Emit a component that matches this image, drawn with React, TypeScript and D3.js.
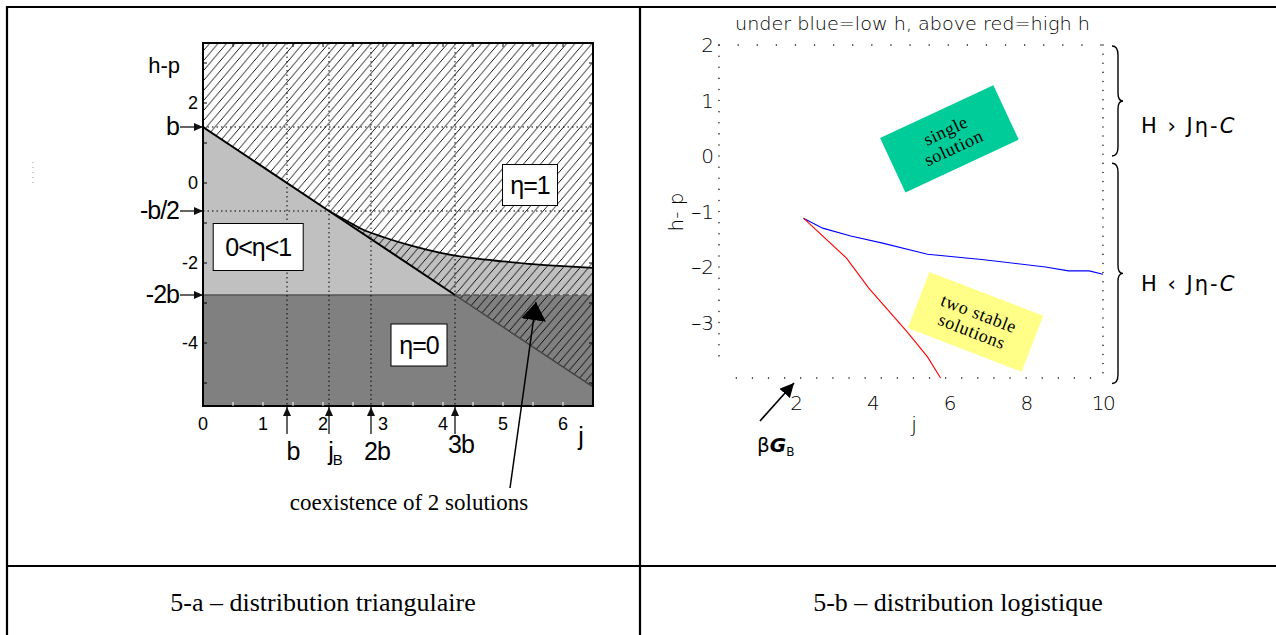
import { useEffect, useRef } from 'react';
import * as d3 from 'd3';

const W = 1276;
const H = 635;

// ---- left panel: triangular distribution ----
const leftXTicks = [0, 1, 2, 3, 4, 5, 6];
const leftYTicks = [2, 0, -2, -4];
const leftYMarks = [
  { h: 1.4, label: 'b' },
  { h: -0.7, label: '-b/2' },
  { h: -2.8, label: '-2b' },
];
const leftXMarks = [
  { j: 1.4, label: 'b', sub: '' },
  { j: 2.1, label: 'j', sub: 'B' },
  { j: 2.8, label: '2b', sub: '' },
  { j: 4.2, label: '3b', sub: '' },
];
const minusTwoB = -2.8;
// h-p = b - j  (lower boundary of eta=1)
const lowerLine: [number, number][] = [[0, 1.4], [2.1, -0.7], [4.2, -2.8], [6.5, -5.1]];
// upper boundary for j > jB
const upperCurve: [number, number][] = [
  [2.1, -0.7], [2.4, -0.95], [2.67, -1.17], [3.0, -1.35], [3.5, -1.58], [4.0, -1.76],
  [4.5, -1.88], [5.0, -1.96], [5.5, -2.03], [6.0, -2.08], [6.5, -2.12],
];
const leftBoxes = [
  { j: 5.45, h: -0.05, w: 55, hh: 41, text: 'η=1' },
  { j: 0.92, h: -1.6, w: 90, hh: 47, text: '0<η<1' },
  { j: 3.6, h: -4.05, w: 56, hh: 42, text: 'η=0' },
];

// ---- right panel: logistic distribution ----
const rightXTicks = [2, 4, 6, 8, 10];
const rightYTicks = [2, 1, 0, -1, -2, -3];
const blueLow: [number, number][] = [
  [2.2, -1.12], [2.7, -1.3], [3.43, -1.44], [4.26, -1.57], [5.43, -1.77],
  [6.9, -1.87], [8.5, -2.0], [9.1, -2.07], [9.64, -2.07], [10, -2.13],
];
const redHigh: [number, number][] = [
  [2.2, -1.12], [3.32, -1.84], [3.9, -2.38], [4.9, -3.17], [5.43, -3.62], [5.77, -4.0],
];
const rightBoxes = [
  { j: 6.0, h: 0.31, w: 125, hh: 60, rot: -25, fill: '#00cc99', lines: ['single', 'solution'] },
  { j: 6.68, h: -2.99, w: 122, hh: 60, rot: 21, fill: '#ffff88', lines: ['two stable', 'solutions'] },
];

const SANS = "'Liberation Sans', Arial, sans-serif";
const SERIF = "'Liberation Serif', 'Times New Roman', serif";
const THIN = "'DejaVu Sans', sans-serif";

export default function App() {
  const svgRef = useRef<SVGSVGElement>(null);

  useEffect(() => {
    if (!svgRef.current) return;
    const svg = d3.select(svgRef.current);
    svg.selectAll('*').remove();

    const defs = svg.append('defs');
    const hatch = defs.append('pattern')
      .attr('id', 'hatch')
      .attr('patternUnits', 'userSpaceOnUse')
      .attr('width', 8.5).attr('height', 10);
    hatch.append('path')
      .attr('d', 'M-8.5,10 L0,0 M0,10 L8.5,0 M8.5,10 L17,0')
      .attr('stroke', '#000').attr('stroke-width', 0.9).attr('fill', 'none');

    const mkArrow = (id: string, w: number, h: number, color: string) => {
      defs.append('marker')
        .attr('id', id)
        .attr('viewBox', '0 0 10 10')
        .attr('refX', 10).attr('refY', 5)
        .attr('markerUnits', 'userSpaceOnUse')
        .attr('markerWidth', w).attr('markerHeight', h)
        .attr('preserveAspectRatio', 'none')
        .attr('orient', 'auto')
        .append('path').attr('d', 'M0,0 L10,5 L0,10 Z').attr('fill', color);
    };
    mkArrow('arr', 9, 8, '#111');
    mkArrow('arrBig', 18, 25, '#000');
    mkArrow('arrMid', 14, 14, '#000');

    // table frame
    const frame = svg.append('g').attr('stroke', '#000').attr('stroke-width', 2.2);
    frame.append('line').attr('x1', 6).attr('y1', 7).attr('x2', W).attr('y2', 7);
    frame.append('line').attr('x1', 7).attr('y1', 6).attr('x2', 7).attr('y2', H);
    frame.append('line').attr('x1', 640).attr('y1', 6).attr('x2', 640).attr('y2', H);
    frame.append('line').attr('x1', 6).attr('y1', 566).attr('x2', W).attr('y2', 566);

    svg.append('line')
      .attr('x1', 33).attr('y1', 162).attr('x2', 33).attr('y2', 185)
      .attr('stroke', '#999').attr('stroke-width', 1).attr('stroke-dasharray', '1,4');

    svg.append('text').attr('x', 323).attr('y', 611)
      .attr('text-anchor', 'middle').attr('font-family', SERIF).attr('font-size', 26)
      .text('5-a – distribution triangulaire');
    svg.append('text').attr('x', 958).attr('y', 611)
      .attr('text-anchor', 'middle').attr('font-family', SERIF).attr('font-size', 26)
      .text('5-b – distribution logistique');

    // ================= left panel =================
    const xL = d3.scaleLinear().domain([0, 6.5]).range([203, 593]);
    const yL = d3.scaleLinear().domain([-5.575, 3.5]).range([406, 43]);
    const [x0, x1] = xL.range();
    const [yb, yt] = yL.range();

    defs.append('clipPath').attr('id', 'clipL')
      .append('rect').attr('x', x0).attr('y', yt).attr('width', x1 - x0).attr('height', yb - yt);
    const gL = svg.append('g').attr('clip-path', 'url(#clipL)');

    gL.append('rect').attr('x', x0).attr('y', yt).attr('width', x1 - x0).attr('height', yb - yt)
      .attr('fill', '#c0c0c0');
    gL.append('rect').attr('x', x0).attr('y', yL(minusTwoB)).attr('width', x1 - x0)
      .attr('height', yb - yL(minusTwoB)).attr('fill', '#808080');

    const upperBoundary: [number, number][] = [lowerLine[0], ...upperCurve];
    const area = d3.area<[number, number]>()
      .x(d => xL(d[0])).y0(yt).y1(d => yL(d[1]));
    gL.append('path').datum(upperBoundary).attr('d', area).attr('fill', '#fff');
    gL.append('path').datum(lowerLine).attr('d', area).attr('fill', 'url(#hatch)');

    // -2b boundary
    gL.append('line')
      .attr('x1', x0).attr('x2', xL(4.2)).attr('y1', yL(minusTwoB)).attr('y2', yL(minusTwoB))
      .attr('stroke', '#555').attr('stroke-width', 1.5);
    gL.append('line')
      .attr('x1', xL(4.2)).attr('x2', x1).attr('y1', yL(minusTwoB)).attr('y2', yL(minusTwoB))
      .attr('stroke', '#555').attr('stroke-width', 1.5).attr('stroke-dasharray', '6,3');

    // dotted guides
    const dots = gL.append('g').attr('stroke', '#000').attr('stroke-width', 1).attr('stroke-dasharray', '1.5,3');
    leftYMarks.slice(0, 2).forEach(m => {
      dots.append('line').attr('x1', x0).attr('x2', x1).attr('y1', yL(m.h)).attr('y2', yL(m.h));
    });
    leftXMarks.forEach(m => {
      dots.append('line').attr('x1', xL(m.j)).attr('x2', xL(m.j)).attr('y1', yt).attr('y2', yb);
    });

    const line = d3.line<[number, number]>().x(d => xL(d[0])).y(d => yL(d[1]));
    gL.append('path').datum(lowerLine.slice(0, 3)).attr('d', line)
      .attr('fill', 'none').attr('stroke', '#000').attr('stroke-width', 2);
    gL.append('path').datum(lowerLine.slice(2)).attr('d', line)
      .attr('fill', 'none').attr('stroke', '#444').attr('stroke-width', 1.5);
    gL.append('path').datum(upperCurve).attr('d', d3.line<[number, number]>().x(d => xL(d[0])).y(d => yL(d[1])).curve(d3.curveMonotoneX))
      .attr('fill', 'none').attr('stroke', '#000').attr('stroke-width', 1.8);

    // frame + ticks
    svg.append('rect').attr('x', x0).attr('y', yt).attr('width', x1 - x0).attr('height', yb - yt)
      .attr('fill', 'none').attr('stroke', '#000').attr('stroke-width', 2);
    const ticks = svg.append('g').attr('stroke', '#000').attr('stroke-width', 1);
    d3.range(0.5, 6.5, 0.5).forEach(v => {
      ticks.append('line').attr('x1', xL(v)).attr('x2', xL(v)).attr('y1', yt).attr('y2', yt + 4);
      ticks.append('line').attr('x1', xL(v)).attr('x2', xL(v)).attr('y1', yb).attr('y2', yb - 4)
        .attr('stroke', '#fff');
    });
    d3.range(-5, 4, 1).forEach(v => {
      ticks.append('line').attr('x1', x0).attr('x2', x0 + 4).attr('y1', yL(v)).attr('y2', yL(v));
      ticks.append('line').attr('x1', x1).attr('x2', x1 - 4).attr('y1', yL(v)).attr('y2', yL(v));
    });

    svg.append('g').selectAll('text').data(leftXTicks).enter().append('text')
      .attr('x', d => xL(d)).attr('y', 430).attr('text-anchor', 'middle')
      .attr('font-family', SANS).attr('font-size', 18).text(d => d);
    svg.append('g').selectAll('text').data(leftYTicks).enter().append('text')
      .attr('x', x0 - 5).attr('y', d => yL(d) + 6).attr('text-anchor', 'end')
      .attr('font-family', SANS).attr('font-size', 18).text(d => d);

    svg.append('text').attr('x', 180).attr('y', 73).attr('text-anchor', 'end')
      .attr('font-family', SANS).attr('font-size', 22).text('h-p');

    leftYMarks.forEach(m => {
      svg.append('line').attr('x1', x0 - 23).attr('x2', x0).attr('y1', yL(m.h)).attr('y2', yL(m.h))
        .attr('stroke', '#111').attr('stroke-width', 1.3).attr('marker-end', 'url(#arr)');
      svg.append('text').attr('x', x0 - 24).attr('y', yL(m.h) + 8).attr('text-anchor', 'end')
        .attr('font-family', SANS).attr('font-size', 25).attr('letter-spacing', -1).text(m.label);
    });

    leftXMarks.forEach(m => {
      svg.append('line').attr('x1', xL(m.j)).attr('x2', xL(m.j)).attr('y1', 434).attr('y2', yb + 1)
        .attr('stroke', '#111').attr('stroke-width', 1.3).attr('marker-end', 'url(#arr)');
      const t = svg.append('text').attr('x', xL(m.j) + 6).attr('y', m.label === '3b' ? 453 : 460)
        .attr('text-anchor', 'middle').attr('font-family', SANS).attr('font-size', 25)
        .attr('letter-spacing', -1).text(m.label);
      if (m.sub) t.append('tspan').attr('font-size', 15).attr('dy', 5).text(m.sub);
    });
    svg.append('text').attr('x', 581).attr('y', 445).attr('text-anchor', 'middle')
      .attr('font-family', SANS).attr('font-size', 25).text('j');

    leftBoxes.forEach(b => {
      const cx = xL(b.j), cy = yL(b.h);
      svg.append('rect').attr('x', cx - b.w / 2).attr('y', cy - b.hh / 2).attr('width', b.w).attr('height', b.hh)
        .attr('fill', '#fff').attr('stroke', '#000').attr('stroke-width', 1);
      svg.append('text').attr('x', cx).attr('y', cy + 9).attr('text-anchor', 'middle')
        .attr('font-family', SANS).attr('font-size', 25).attr('letter-spacing', -1).text(b.text);
    });

    // coexistence annotation
    svg.append('line').attr('x1', 510).attr('y1', 488).attr('x2', xL(5.55)).attr('y2', yL(-2.98))
      .attr('stroke', '#000').attr('stroke-width', 1.5).attr('marker-end', 'url(#arrBig)');
    svg.append('text').attr('x', 409).attr('y', 510).attr('text-anchor', 'middle')
      .attr('font-family', SERIF).attr('font-size', 23).text('coexistence of 2 solutions');

    // ================= right panel =================
    const xR = d3.scaleLinear().domain([0, 10]).range([719, 1103]);
    const yR = d3.scaleLinear().domain([-4, 2]).range([378, 45]);
    const fr = svg.append('g').attr('stroke', '#000').attr('stroke-width', 1.4)
      .attr('stroke-linecap', 'round').attr('fill', 'none');
    fr.append('line').attr('x1', xR(0)).attr('x2', xR(10)).attr('y1', yR(2)).attr('y2', yR(2))
      .attr('stroke-dasharray', '0.1,19');
    fr.append('line').attr('x1', xR(0.45)).attr('x2', xR(10)).attr('y1', yR(-4)).attr('y2', yR(-4))
      .attr('stroke-dasharray', '0.1,16');
    fr.append('line').attr('x1', xR(0)).attr('x2', xR(0)).attr('y1', yR(2)).attr('y2', yR(-3.8))
      .attr('stroke-dasharray', '0.1,11');
    fr.append('line').attr('x1', xR(10)).attr('x2', xR(10)).attr('y1', yR(2)).attr('y2', yR(-4))
      .attr('stroke-dasharray', '0.1,9');

    svg.append('g').selectAll('text').data(rightXTicks).enter().append('text')
      .attr('x', d => xR(d)).attr('y', 410).attr('text-anchor', 'middle')
      .attr('font-family', THIN).attr('font-weight', 300).attr('font-size', 20).attr('fill', '#000')
      .attr('letter-spacing', -1.5).text(d => d);
    svg.append('g').selectAll('text').data(rightYTicks).enter().append('text')
      .attr('x', 714).attr('y', d => yR(d) + 7).attr('text-anchor', 'end')
      .attr('font-family', THIN).attr('font-weight', 300).attr('font-size', 20).attr('fill', '#000')
      .text(d => (d < 0 ? `–${-d}` : `${d}`));

    svg.append('text').attr('x', 914).attr('y', 432).attr('text-anchor', 'middle')
      .attr('font-family', THIN).attr('font-weight', 300).attr('font-size', 22).text('j');
    svg.append('text').attr('transform', 'translate(683,212) rotate(-90)').attr('text-anchor', 'middle')
      .attr('font-family', THIN).attr('font-weight', 300).attr('font-size', 20).text('h- p');
    svg.append('text').attr('x', 735).attr('y', 30)
      .attr('font-family', THIN).attr('font-weight', 300).attr('font-size', 18)
      .attr('textLength', 355).attr('lengthAdjust', 'spacingAndGlyphs')
      .text('under blue=low h, above red=high h');

    const lineR = d3.line<[number, number]>().x(d => xR(d[0])).y(d => yR(d[1]));
    svg.append('path').datum(blueLow).attr('d', lineR).attr('fill', 'none')
      .attr('stroke', '#0000ff').attr('stroke-width', 1.1);
    svg.append('path').datum(redHigh).attr('d', lineR).attr('fill', 'none')
      .attr('stroke', '#ff0000').attr('stroke-width', 1.1);

    rightBoxes.forEach(b => {
      const g = svg.append('g').attr('transform', `translate(${xR(b.j)},${yR(b.h)}) rotate(${b.rot})`);
      g.append('rect').attr('x', -b.w / 2).attr('y', -b.hh / 2).attr('width', b.w).attr('height', b.hh)
        .attr('fill', b.fill);
      b.lines.forEach((l, i) => {
        g.append('text').attr('x', 0).attr('y', -3 + i * 19).attr('text-anchor', 'middle')
          .attr('font-family', SERIF).attr('font-size', 18).attr('letter-spacing', 0.6).text(l);
      });
    });

    // braces
    const brace = (top: number, bot: number, x: number) => {
      const mid = (top + bot) / 2;
      return `M${x},${top} Q${x + 6},${top} ${x + 6},${top + 9} L${x + 6},${mid - 8} Q${x + 6},${mid} ${x + 11},${mid}` +
        ` Q${x + 6},${mid} ${x + 6},${mid + 8} L${x + 6},${bot - 9} Q${x + 6},${bot} ${x},${bot}`;
    };
    svg.append('path').attr('d', brace(yR(2) + 1, yR(0), 1112)).attr('fill', 'none')
      .attr('stroke', '#000').attr('stroke-width', 1.4);
    svg.append('path').attr('d', brace(yR(-0.13), yR(-4.1), 1112)).attr('fill', 'none')
      .attr('stroke', '#000').attr('stroke-width', 1.4);

    const cond = (y: number, sym: string) => {
      const t = svg.append('text').attr('x', 1141).attr('y', y)
        .attr('font-family', THIN).attr('font-size', 21).attr('letter-spacing', 2);
      t.append('tspan').text(`H ${sym} Jη-`);
      t.append('tspan').attr('font-style', 'italic').text('C');
    };
    cond(133, '›');
    cond(291, '‹');

    svg.append('line').attr('x1', 760).attr('y1', 421).attr('x2', 794).attr('y2', 383)
      .attr('stroke', '#000').attr('stroke-width', 1.6).attr('marker-end', 'url(#arrMid)');
    const bg = svg.append('text').attr('x', 757).attr('y', 452)
      .attr('font-family', THIN).attr('font-size', 20);
    bg.append('tspan').text('β');
    bg.append('tspan').attr('font-style', 'italic').attr('font-weight', 'bold').text('G');
    bg.append('tspan').attr('font-size', 12).attr('dy', 4).text('B');
  }, []);

  return (
    <svg
      ref={svgRef}
      width={W}
      height={H}
      style={{ position: 'absolute', left: 0, top: 0, background: '#fff' }}
    />
  );
}
